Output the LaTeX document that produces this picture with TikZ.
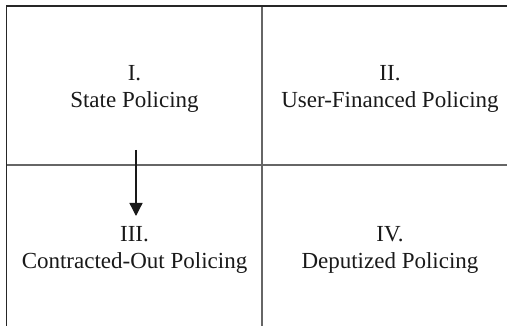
\documentclass[tikz,border=0pt]{standalone}
\usepackage{fontspec}
\setmainfont{Liberation Serif}
\usetikzlibrary{arrows.meta}
\begin{document}
\begin{tikzpicture}[x=1pt,y=-1pt,
  border/.style={line width=1.6pt,draw=black!85},
  divider/.style={line width=2pt,draw=black!60},
  lbl/.style={anchor=base,inner sep=0pt,text=black!90,font=\fontsize{23}{27}\selectfont},
  flow/.style={line width=1.3pt,draw=black!90,-{Triangle[width=13pt,length=13pt]}}]
\useasboundingbox (0,0) rectangle (507,326);
% frame and dividers
\coordinate (tl) at (6.5,6);
\coordinate (tr) at (507,6);
\coordinate (bl) at (6.5,326);
\coordinate (mt) at (262,6);
\coordinate (mb) at (262,326);
\coordinate (ml) at (6.5,165.5);
\coordinate (mr) at (507,165.5);
\draw[divider] (mt) -- (mb);
\draw[divider] (ml) -- (mr);
\draw[border] (tr) -- (tl) -- (bl);
% labels
\node[lbl] (n1) at (134.5,81) {I.};
\node[lbl] (t1) at (134.5,107.5) {State Policing};
\node[lbl] (n2) at (390,81) {II.};
\node[lbl] (t2) at (390,107.5) {User-Financed Policing};
\node[lbl] (n3) at (134.5,242) {III.};
\node[lbl] (t3) at (134.5,268.5) {Contracted-Out Policing};
\node[lbl] (n4) at (390,242) {IV.};
\node[lbl] (t4) at (390,268.5) {Deputized Policing};
% arrow
\coordinate (a1) at (136,150);
\coordinate (a2) at (136,216);
\draw[flow] (a1) -- (a2);
\end{tikzpicture}
\end{document}
